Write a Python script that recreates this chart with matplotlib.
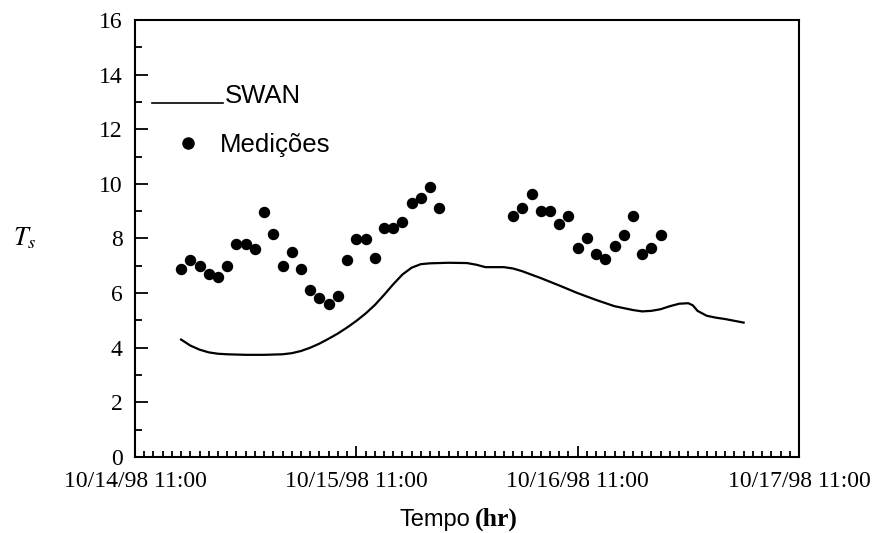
import matplotlib
matplotlib.use('Agg')
import matplotlib.pyplot as plt
from matplotlib.ticker import MultipleLocator

plt.rcParams['font.family'] = ['Liberation Serif', 'DejaVu Serif']
plt.rcParams['mathtext.fontset'] = 'stix'

# horas contadas a partir de 10/14/98 11:00
med_horas = [5, 6, 7, 8, 9, 10, 11, 12, 13, 14, 15, 16, 17, 18, 19, 20, 21, 22,
             23, 24, 25, 26, 27, 28, 29, 30, 31, 32, 33,
             41, 42, 43, 44, 45, 46, 47, 48, 49, 50, 51, 52, 53, 54, 55, 56, 57]
med_ts = [6.88, 7.20, 7.00, 6.70, 6.59, 7.00, 7.79, 7.79, 7.61, 8.98, 8.18, 7.00,
          7.50, 6.89, 6.10, 5.81, 5.60, 5.91, 7.20, 7.98, 7.98, 7.30, 8.39, 8.39,
          8.60, 9.30, 9.49, 9.90, 9.11,
          8.82, 9.12, 9.63, 9.02, 9.02, 8.53, 8.82, 7.64, 8.03, 7.43, 7.24, 7.74,
          8.13, 8.82, 7.43, 7.64, 8.13]

swan_horas = [5, 6, 7, 8, 9, 10, 12, 14, 16, 17, 18, 19, 20, 21, 22, 23, 24, 25,
              26, 27, 28, 29, 30, 31, 32, 34, 36, 37, 38, 40, 41, 42, 44, 46, 48,
              50, 52, 54, 55, 56, 57, 58, 59, 60, 60.5, 61, 62, 63, 64, 66]
swan_ts = [4.30, 4.08, 3.93, 3.83, 3.78, 3.76, 3.74, 3.74, 3.76, 3.80, 3.88, 4.00,
           4.15, 4.33, 4.52, 4.74, 4.98, 5.25, 5.56, 5.93, 6.32, 6.68, 6.93, 7.06,
           7.09, 7.11, 7.10, 7.04, 6.95, 6.95, 6.90, 6.80, 6.55, 6.28, 6.00, 5.75,
           5.52, 5.38, 5.33, 5.35, 5.41, 5.52, 5.61, 5.63, 5.55, 5.35, 5.17, 5.10,
           5.05, 4.92]

x_ticks = [0, 24, 48, 72]
x_labels = ['10/14/98 11:00', '10/15/98 11:00', '10/16/98 11:00', '10/17/98 11:00']

fig = plt.figure(figsize=(8.77, 5.33), dpi=100)
ax = fig.add_axes([0.1539, 0.1426, 0.7571, 0.82])

ax.plot(swan_horas, swan_ts, color='black', linewidth=1.6)
ax.scatter(med_horas, med_ts, s=52, color='black', zorder=3)

ax.set_xlim(0, 72)
ax.set_ylim(0, 16)
ax.set_xticks(x_ticks)
ax.set_xticklabels(x_labels)
ax.xaxis.set_minor_locator(MultipleLocator(1))
ax.set_yticks(range(0, 17, 2))
ax.yaxis.set_minor_locator(MultipleLocator(1))

ax.tick_params(axis='both', which='both', direction='in', top=False, right=False,
               labelsize=17, width=1.3)
ax.tick_params(axis='y', which='major', length=9, pad=9)
ax.tick_params(axis='y', which='minor', length=5)
ax.tick_params(axis='x', which='major', length=8, pad=10)
ax.tick_params(axis='x', which='minor', length=4.5)
for s in ax.spines.values():
    s.set_linewidth(1.5)

# legenda desenhada à mão
ax.plot([0.0256, 0.132], [0.809, 0.809], color='black', linewidth=1.2,
        transform=ax.transAxes)
ax.text(0.1355, 0.811, 'SWAN', family='Liberation Sans', fontsize=18.5,
        va='baseline', transform=ax.transAxes)
ax.plot([0.0798], [0.718], 'o', color='black', markersize=8,
        transform=ax.transAxes)
ax.text(0.128, 0.698, 'Medições', family='Liberation Sans', fontsize=18.5,
        va='baseline', transform=ax.transAxes)

fig.text(0.015, 0.553, r'$T_s$', fontsize=19, ha='left', va='center')
fig.text(0.455, 0.0135, 'Tempo', family='Liberation Sans', fontsize=17,
         va='baseline')
fig.text(0.541, 0.0135, '(hr)', fontsize=18.5, fontweight='bold', va='baseline')

fig.savefig('out.png', dpi=100)
